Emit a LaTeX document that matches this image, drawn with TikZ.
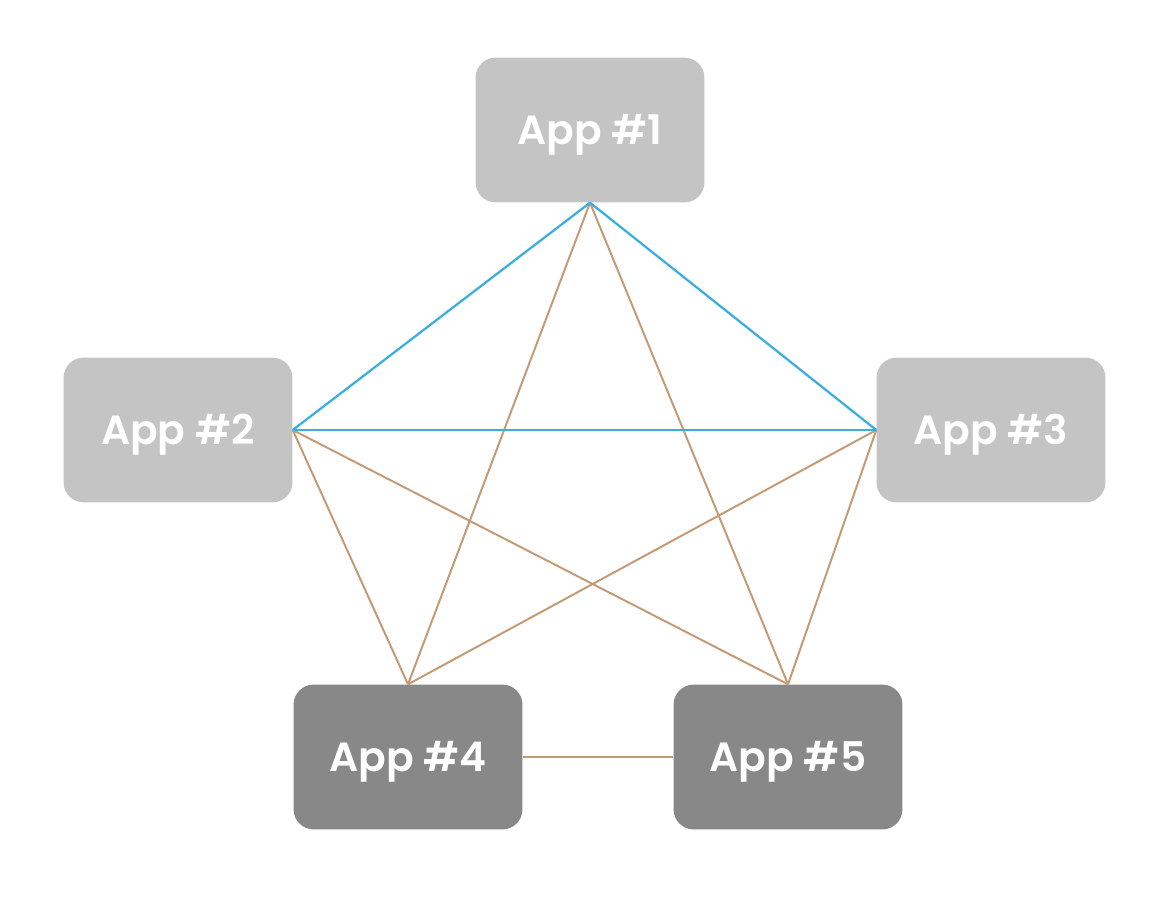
\documentclass[tikz,border=0pt]{standalone}
\usepackage{fontspec}
\setmainfont{Poppins}[BoldFont={Poppins SemiBold}]
\usetikzlibrary{positioning}
\definecolor{applight}{RGB}{196,196,196}
\definecolor{appdark}{RGB}{136,136,136}
\definecolor{linkblue}{RGB}{58,174,224}
\definecolor{linkbrown}{RGB}{196,154,116}

\begin{document}
\begin{tikzpicture}[x=0.025cm,y=-0.025cm,
  app/.style={rectangle,rounded corners=0.5cm,minimum width=5.72cm,minimum height=3.62cm,
    text height=20pt,text depth=0pt,text=white,font=\fontsize{29}{34}\selectfont\bfseries},
  blue link/.style={linkblue,line width=1.6pt},
  brown link/.style={linkbrown,line width=1.4pt}]
\useasboundingbox (0,0) rectangle (1176,902);

% Apps
\node[app,fill=applight] (app1) at (590,130) {App \#1};
\node[app,fill=applight] (app2) at (178,430) {App \#2};
\node[app,fill=applight] (app3) at (991,430) {App \#3};
\node[app,fill=appdark] (app4) at (408,757) {App \#4};
\node[app,fill=appdark] (app5) at (788,757) {App \#5};

% Links
\draw[brown link] (app1.south) -- (app4.north);
\draw[brown link] (app1.south) -- (app5.north);
\draw[brown link] (app2.east) -- (app4.north);
\draw[brown link] (app2.east) -- (app5.north);
\draw[brown link] (app3.west) -- (app4.north);
\draw[brown link] (app3.west) -- (app5.north);
\draw[brown link] (app4.east) -- (app5.west);
\draw[blue link] (app1.south) -- (app2.east);
\draw[blue link] (app1.south) -- (app3.west);
\draw[blue link] (app2.east) -- (app3.west);
\end{tikzpicture}
\end{document}
